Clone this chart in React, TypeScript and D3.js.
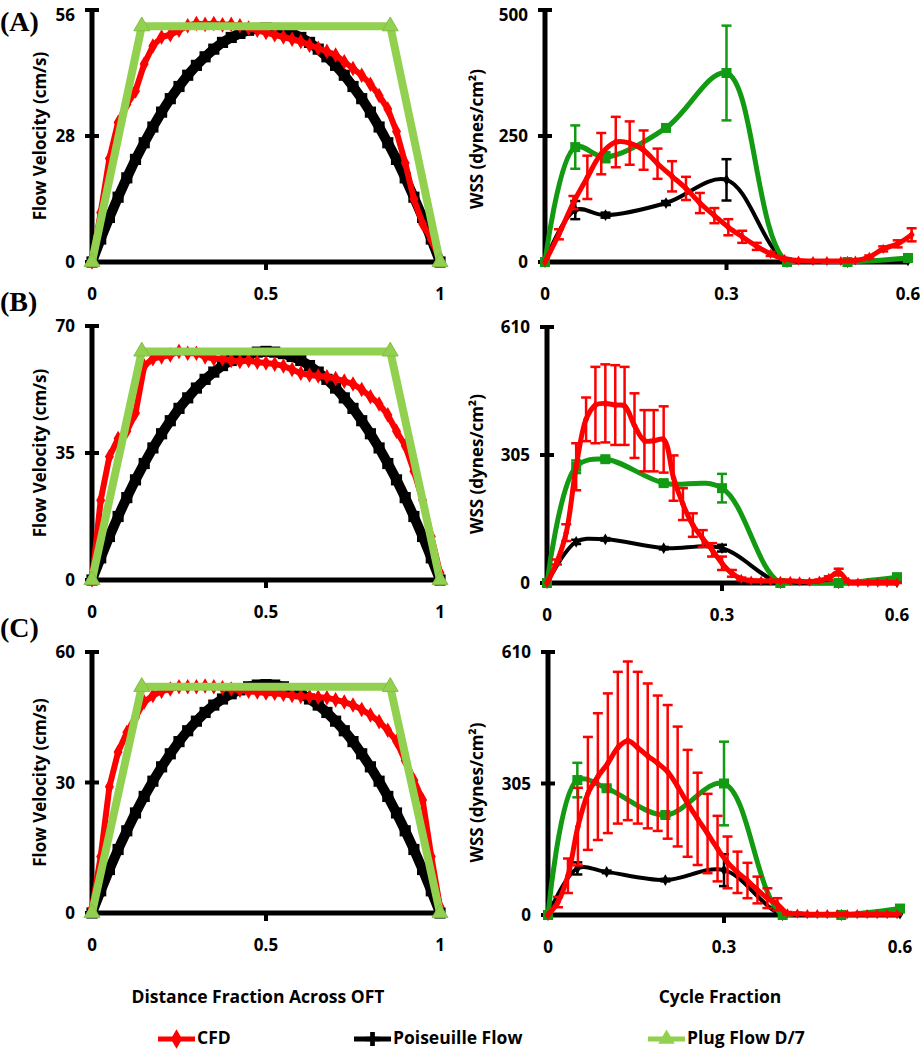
import React from "react";
import * as d3 from "d3";

// ---- velocity profiles (left column) ----
const velX = [0, 0.025, 0.05, 0.075, 0.1, 0.125, 0.15, 0.175, 0.2, 0.225, 0.25, 0.275, 0.3, 0.325, 0.35, 0.375, 0.4, 0.425, 0.45, 0.475, 0.5, 0.525, 0.55, 0.575, 0.6, 0.625, 0.65, 0.675, 0.7, 0.725, 0.75, 0.775, 0.8, 0.825, 0.85, 0.875, 0.9, 0.925, 0.95, 0.975, 1];

const poisA = [0, 5.1, 9.9, 14.4, 18.7, 22.8, 26.5, 30.0, 33.3, 36.3, 39.0, 41.5, 43.7, 45.6, 47.3, 48.8, 49.9, 50.8, 51.5, 51.9, 52.0, 51.9, 51.5, 50.8, 49.9, 48.8, 47.3, 45.6, 43.7, 41.5, 39.0, 36.3, 33.3, 30.0, 26.5, 22.8, 18.7, 14.4, 9.9, 5.1, 0];
const poisB = [0, 6.1, 12.0, 17.5, 22.7, 27.6, 32.1, 36.4, 40.3, 43.9, 47.3, 50.2, 52.9, 55.3, 57.3, 59.1, 60.5, 61.6, 62.4, 62.8, 63.0, 62.8, 62.4, 61.6, 60.5, 59.1, 57.3, 55.3, 52.9, 50.2, 47.3, 43.9, 40.3, 36.4, 32.1, 27.6, 22.7, 17.5, 12.0, 6.1, 0];
const poisC = [0, 5.1, 10.0, 14.6, 18.9, 23.0, 26.8, 30.3, 33.6, 36.6, 39.4, 41.9, 44.1, 46.1, 47.8, 49.2, 50.4, 51.3, 52.0, 52.4, 52.5, 52.4, 52.0, 51.3, 50.4, 49.2, 47.8, 46.1, 44.1, 41.9, 39.4, 36.6, 33.6, 30.3, 26.8, 23.0, 18.9, 14.6, 10.0, 5.1, 0];

const cfdA = [0, 11, 23, 31, 35, 38, 44, 48, 50, 50.5, 51.5, 52.5, 53, 52.8, 53, 52.7, 52.8, 52.5, 52, 51.5, 51, 50.5, 50, 49.5, 49, 48.2, 47.5, 46.8, 46, 44.5, 43, 41.5, 39.5, 37, 34, 29, 22, 14, 8.5, 5, 0.5];
const cfdB = [0, 22, 34, 39, 41, 46, 59, 61, 61.5, 62, 63, 62.5, 62.5, 61.5, 61, 61, 60.5, 60.2, 60.5, 60, 59.8, 59.5, 59, 58, 57, 56.5, 56.2, 56, 55.5, 54.8, 54, 52.5, 50.5, 48.5, 45.5, 41, 37, 30, 22, 12, 2];
const cfdC = [1, 13, 29, 37, 41.5, 45, 48.5, 50, 51, 51.5, 52, 52, 52, 52.2, 52, 51.8, 51.5, 51.2, 51, 50.8, 50.6, 50.5, 50.3, 50, 49.8, 49.7, 49.6, 49.5, 49, 48.5, 47.8, 46.8, 45.5, 44, 42, 39.5, 35, 30.5, 26, 13, 1.5];

const plugX = [0, 0.143, 0.857, 1];
const plugA = [0, 52.4, 52.4, 0];
const plugB = [0, 63, 63, 0];
const plugC = [0, 52, 52, 0];

const velMax = [56, 70, 60];
const velTicks = [[0, 28, 56], [0, 35, 70], [0, 30, 60]];
const distTicks = [0, 0.5, 1];

// ---- wall shear stress (right column) ----
const modelX = [0, 0.05, 0.1, 0.2, 0.3, 0.4, 0.5, 0.6];
const poisWssA = [0, 103, 93, 117, 163, 0, 0, 3];
const poisErrA = [0, 18, 5, 4, 41, 0, 0, 0];
const plugWssA = [0, 228, 208, 266, 375, 0, 0, 8];
const plugErrA = [0, 43, 10, 6, 94, 0, 0, 0];
const poisWssB = [0, 98, 104, 83, 83, 0, 0, 2];
const poisErrB = [0, 5, 3, 3, 8, 0, 0, 0];
const plugWssB = [0, 277, 295, 238, 226, 0, 0, 14];
const plugErrB = [0, 15, 5, 5, 34, 0, 0, 0];
const poisWssC = [0, 108, 100, 81, 104, 0, 0, 3];
const poisErrC = [0, 14, 3, 3, 37, 0, 0, 0];
const plugWssC = [0, 313, 294, 232, 305, 0, 0, 15];
const plugErrC = [0, 40, 5, 5, 97, 0, 0, 0];

const cfdXA = [0, 0.023, 0.047, 0.070, 0.093, 0.117, 0.140, 0.163, 0.186, 0.210, 0.233, 0.256, 0.280, 0.303, 0.326, 0.350, 0.373, 0.396, 0.419, 0.443, 0.466, 0.489, 0.513, 0.536, 0.559, 0.583, 0.606];
const cfdWssA = [0, 55, 118, 168, 215, 238, 236, 222, 195, 170, 146, 117, 92, 69, 50, 31, 16, 6, 3, 2, 2, 2, 3, 10, 26, 36, 54];
const cfdErrA = [0, 10, 13, 43, 41, 50, 43, 39, 30, 30, 23, 20, 15, 16, 12, 7, 4, 2, 1, 1, 1, 1, 1, 3, 5, 7, 13];

const cfdXB = [0, 0.017, 0.033, 0.05, 0.067, 0.083, 0.1, 0.117, 0.133, 0.15, 0.167, 0.183, 0.2, 0.217, 0.233, 0.25, 0.267, 0.283, 0.3, 0.317, 0.333, 0.35, 0.367, 0.383, 0.4, 0.417, 0.433, 0.45, 0.467, 0.483, 0.5, 0.517, 0.533, 0.55, 0.567, 0.583, 0.6];
const cfdWssB = [0, 50, 120, 277, 390, 424, 428, 424, 422, 375, 339, 339, 342, 250, 188, 138, 106, 79, 47, 23, 10, 6, 5, 5, 5, 5, 4, 3, 6, 12, 26, 3, 1, 1, 1, 1, 1];
const cfdErrB = [0, 6, 20, 56, 52, 91, 93, 95, 93, 77, 73, 73, 79, 54, 38, 28, 20, 16, 16, 8, 3, 2, 2, 2, 2, 2, 2, 2, 2, 4, 8, 2, 1, 1, 1, 1, 1];

const cfdXC = [0, 0.017, 0.034, 0.051, 0.068, 0.085, 0.102, 0.119, 0.136, 0.153, 0.17, 0.187, 0.204, 0.221, 0.238, 0.255, 0.272, 0.289, 0.306, 0.323, 0.34, 0.357, 0.374, 0.391, 0.408, 0.425, 0.442, 0.459, 0.476, 0.493, 0.51, 0.527, 0.544, 0.561, 0.578, 0.595];
const cfdWssC = [0, 30, 91, 205, 282, 321, 352, 388, 404, 388, 369, 352, 332, 298, 259, 223, 189, 154, 122, 99, 80, 58, 39, 25, 4, 3, 2, 2, 2, 2, 2, 2, 2, 2, 2, 2];
const cfdErrC = [0, 12, 40, 90, 131, 147, 162, 176, 184, 176, 168, 157, 155, 139, 124, 107, 92, 76, 60, 48, 41, 31, 23, 14, 3, 2, 1, 1, 1, 1, 1, 1, 1, 1, 1, 1];

const wssMax = [500, 610, 610];
const wssTicks = [[0, 250, 500], [0, 305, 610], [0, 305, 610]];
const cycleTicks = [0, 0.3, 0.6];

const panelNames = ["(A)", "(B)", "(C)"];
const legendNames = ["CFD", "Poiseuille Flow", "Plug Flow D/7"];

// layout
const W = 922;
const H = 1050;
const FONT = "'Open Sans', 'DejaVu Sans', sans-serif";
const RED = "#ff0000";
const LIGHT_GREEN = "#92d050";
const GREEN = "#129a12";

type Box = { x0: number; x1: number; y0: number; y1: number };
const leftBoxes: Box[] = [
  { x0: 92, x1: 440, y0: 262, y1: 10 },
  { x0: 92, x1: 440, y0: 580, y1: 326 },
  { x0: 92, x1: 440, y0: 913, y1: 652 },
];
const rightBoxes: Box[] = [
  { x0: 545, x1: 908, y0: 262, y1: 10 },
  { x0: 547, x1: 897, y0: 583, y1: 327 },
  { x0: 548, x1: 900, y0: 915, y1: 652 },
];
const letterY = [31, 311, 637];

const sym = (type: d3.SymbolType, size: number) => d3.symbol().type(type).size(size)() as string;

function Axes({ box, x, y, xTicks, yTicks, title, titleX, titleShift }: any) {
  const mid = xTicks[1];
  return (
    <g>
      <line x1={box.x0} x2={box.x0} y1={box.y0 + 2} y2={box.y1} stroke="#000" strokeWidth={5} />
      <line x1={box.x0 - 2} x2={box.x1} y1={box.y0} y2={box.y0} stroke="#000" strokeWidth={5} />
      <line x1={x(mid)} x2={x(mid)} y1={box.y0} y2={box.y0 + 8} stroke="#000" strokeWidth={4} />
      {yTicks.map((t: number) => (
        <g key={t}>
          <line x1={box.x0 - 7} x2={box.x0 + 7} y1={y(t)} y2={y(t)} stroke="#000" strokeWidth={4} />
          <text x={box.x0 - 17} y={Math.max(y(t) + 6, 21)} textAnchor="end" fontSize={17} fontWeight={700}>{t}</text>
        </g>
      ))}
      {xTicks.map((t: number) => (
        <text key={t} x={x(t)} y={box.y0 + 38} textAnchor="middle" fontSize={17} fontWeight={700}>{t}</text>
      ))}
      <text
        transform={`translate(${titleX},${(box.y0 + box.y1) / 2 + titleShift}) rotate(-90)`}
        textAnchor="middle"
        fontSize={17}
        fontWeight={700}
      >
        {title}
      </text>
    </g>
  );
}

function VelocityPanel({ i }: { i: number }) {
  const box = leftBoxes[i];
  const pois = [poisA, poisB, poisC][i];
  const cfd = [cfdA, cfdB, cfdC][i];
  const plug = [plugA, plugB, plugC][i];
  const x = d3.scaleLinear().domain([0, 1]).range([box.x0, box.x1]);
  const y = d3.scaleLinear().domain([0, velMax[i]]).range([box.y0, box.y1]);
  const line = d3.line<number>().x((_, k) => x(velX[k])).y((d) => y(d));
  const plugLine = d3.line<number>().x((_, k) => x(plugX[k])).y((d) => y(d));
  const sq = sym(d3.symbolSquare, 125);
  const dia = sym(d3.symbolDiamond, 70);
  const tri = sym(d3.symbolTriangle, 110);
  return (
    <g>
      <Axes box={box} x={x} y={y} xTicks={distTicks} yTicks={velTicks[i]} title="Flow Velocity (cm/s)" titleX={46} titleShift={0} />
      <path d={line(pois) as string} fill="none" stroke="#000" strokeWidth={10} />
      {pois.map((d, k) => (
        <path key={k} d={sq} transform={`translate(${x(velX[k])},${y(d)})`} fill="#000" />
      ))}
      <path d={line(cfd) as string} fill="none" stroke={RED} strokeWidth={6} strokeLinejoin="round" />
      {cfd.map((d, k) => (
        <path key={k} d={dia} transform={`translate(${x(velX[k])},${y(d)})`} fill={RED} />
      ))}
      <path d={plugLine(plug) as string} fill="none" stroke={LIGHT_GREEN} strokeWidth={8} strokeLinejoin="round" />
      {plug.map((d, k) => (
        <path key={k} d={tri} transform={`translate(${x(plugX[k])},${y(d)})`} fill={LIGHT_GREEN} stroke="#84bd45" strokeWidth={1} />
      ))}
      <text x={0} y={letterY[i]} fontFamily="'Liberation Serif', 'Times New Roman', serif" fontWeight={700} fontSize={28}>
        {panelNames[i]}
      </text>
    </g>
  );
}

function Series({ xs, vs, es, x, y, color, width, marker, clipId, capW }: any) {
  const line = d3
    .line<number>()
    .x((_, k) => x(xs[k]))
    .y((d) => y(d))
    .curve(d3.curveCatmullRom.alpha(0.5));
  return (
    <g>
      <path d={line(vs) as string} fill="none" stroke={color} strokeWidth={width} clipPath={`url(#${clipId})`} strokeLinejoin="round" />
      {vs.map((v: number, k: number) =>
        es[k] > 0 ? (
          <g key={"e" + k} stroke={color} strokeWidth={2.5}>
            <line x1={x(xs[k])} x2={x(xs[k])} y1={y(v - es[k])} y2={y(v + es[k])} />
            <line x1={x(xs[k]) - capW} x2={x(xs[k]) + capW} y1={y(v - es[k])} y2={y(v - es[k])} />
            <line x1={x(xs[k]) - capW} x2={x(xs[k]) + capW} y1={y(v + es[k])} y2={y(v + es[k])} />
          </g>
        ) : null
      )}
      {vs.map((v: number, k: number) => (
        <path key={"m" + k} d={marker} transform={`translate(${x(xs[k])},${y(v)})`} fill={color} />
      ))}
    </g>
  );
}

function WssPanel({ i }: { i: number }) {
  const box = rightBoxes[i];
  const x = d3.scaleLinear().domain([0, 0.6]).range([box.x0, box.x1]);
  const y = d3.scaleLinear().domain([0, wssMax[i]]).range([box.y0, box.y1]);
  const clipId = "clipw" + i;
  return (
    <g>
      <defs>
        <clipPath id={clipId}>
          <rect x={box.x0 - 5} y={box.y1 - 60} width={box.x1 - box.x0 + 30} height={box.y0 - box.y1 + 62} />
        </clipPath>
      </defs>
      <Axes box={box} x={x} y={y} xTicks={cycleTicks} yTicks={wssTicks[i]} title="WSS (dynes/cm²)" titleX={483} titleShift={i === 0 ? 3 : 9} />
      <Series xs={modelX} vs={[poisWssA, poisWssB, poisWssC][i]} es={[poisErrA, poisErrB, poisErrC][i]} x={x} y={y} color="#000" width={4} marker={sym(d3.symbolDiamond, 40)} clipId={clipId} capW={5} />
      <Series xs={modelX} vs={[plugWssA, plugWssB, plugWssC][i]} es={[plugErrA, plugErrB, plugErrC][i]} x={x} y={y} color={GREEN} width={5} marker={sym(d3.symbolSquare, 100)} clipId={clipId} capW={5} />
      <Series xs={[cfdXA, cfdXB, cfdXC][i]} vs={[cfdWssA, cfdWssB, cfdWssC][i]} es={[cfdErrA, cfdErrB, cfdErrC][i]} x={x} y={y} color={RED} width={5} marker={sym(d3.symbolDiamond, 30)} clipId={clipId} capW={5} />
    </g>
  );
}

function Legend() {
  const items = [
    { x: 158, color: RED, marker: sym(d3.symbolDiamond, 110) },
    { x: 354, color: "#000", marker: sym(d3.symbolCross, 110) },
    { x: 648, color: LIGHT_GREEN, marker: sym(d3.symbolTriangle, 120) },
  ];
  return (
    <g>
      {items.map((it, k) => (
        <g key={k}>
          <line x1={it.x} x2={it.x + 37} y1={1039} y2={1039} stroke={it.color} strokeWidth={5} />
          <path d={it.marker} transform={`translate(${it.x + 18.5},1039)`} fill={it.color} />
          <text x={it.x + 39} y={1044} fontSize={17.5} fontWeight={700}>{legendNames[k]}</text>
        </g>
      ))}
    </g>
  );
}

export default function App() {
  return (
    <svg width={W} height={H} style={{ position: "absolute", left: 0, top: 0, background: "#fff" }} fontFamily={FONT}>
      <rect width={W} height={H} fill="#fff" />
      {[0, 1, 2].map((i) => (
        <VelocityPanel key={"v" + i} i={i} />
      ))}
      {[0, 1, 2].map((i) => (
        <WssPanel key={"w" + i} i={i} />
      ))}
      <text x={258} y={1003} textAnchor="middle" fontSize={17.5} fontWeight={700}>Distance Fraction Across OFT</text>
      <text x={720} y={1003} textAnchor="middle" fontSize={17.5} fontWeight={700}>Cycle Fraction</text>
      <Legend />
    </svg>
  );
}
